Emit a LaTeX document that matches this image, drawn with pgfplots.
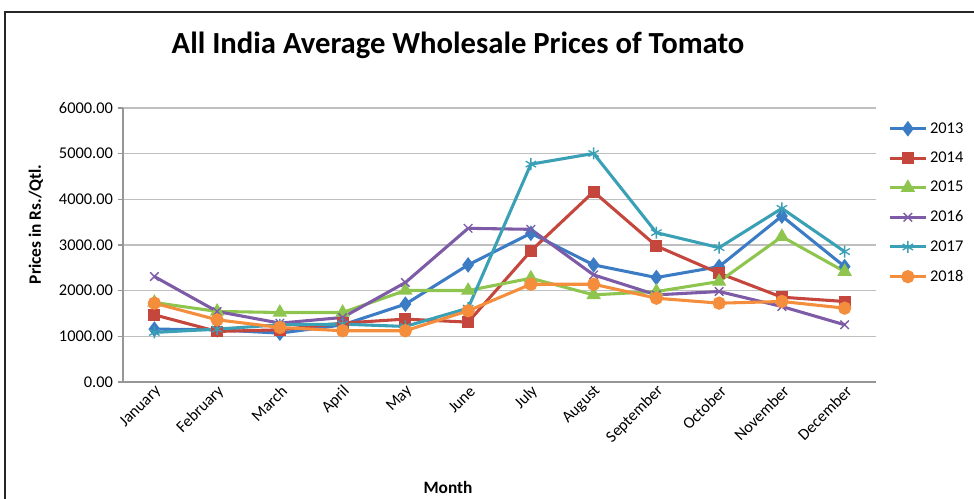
\documentclass[border=0pt]{standalone}
\usepackage{fontspec}
\setmainfont{Carlito}
\usepackage{pgfplots}
\pgfplotsset{compat=1.18}
\definecolor{cBlue}{HTML}{3C7CC4}
\definecolor{cRed}{HTML}{C5463D}
\definecolor{cGreen}{HTML}{8DC54F}
\definecolor{cPurple}{HTML}{7D5BA6}
\definecolor{cTeal}{HTML}{3AA0B6}
\definecolor{cOrange}{HTML}{F58E3C}
\definecolor{gridgray}{HTML}{BFBFBF}
\definecolor{axisgray}{HTML}{969696}

\begin{document}
\begin{tikzpicture}
\path[use as bounding box] (0,0) rectangle (730.5pt,374.25pt);
\draw[line width=1pt,black!85] (3.75pt,-2pt) -- (3.75pt,365.25pt) -- (733pt,365.25pt);
\node[font=\fontsize{23}{27}\selectfont\bfseries] at (343.5pt,340.5pt) {All India Average Wholesale Prices of Tomato};
\node[font=\fontsize{13}{15}\selectfont\bfseries,rotate=90] at (27pt,206pt) {Prices in Rs./Qtl.};
\node[font=\fontsize{13}{15}\selectfont\bfseries] at (336pt,9pt) {Month};
\begin{axis}[
  at={(92.25pt,87.75pt)},anchor=south west,
  scale only axis,
  width=564.75pt,height=205.5pt,
  xmin=-0.5,xmax=11.5,
  ymin=0,ymax=6000,
  axis x line*=bottom,axis y line*=left,
  axis line style={color=axisgray,line width=1pt},
  xtick={0,...,11},
  xticklabels={January,February,March,April,May,June,July,August,September,October,November,December},
  x tick style={draw=none},
  extra x ticks={-0.5,0.5,...,11.5},
  extra x tick labels={},
  extra x tick style={tick style={draw=axisgray,line width=0.8pt},major tick length=4pt,tick align=outside,grid=none},
  xticklabel style={rotate=45,anchor=east,font=\fontsize{12.2}{14}\selectfont,yshift=-3pt,xshift=5pt},
  ytick={0,1000,...,6000},
  y tick style={draw=axisgray,line width=0.8pt},
  major tick length=4pt,
  tick align=outside,
  yticklabel style={font=\fontsize{12.3}{14}\selectfont},
  /pgf/number format/.cd,fixed,fixed zerofill,precision=2,1000 sep={},assume math mode=true,
  /pgfplots/.cd,
  ymajorgrids,
  grid style={color=gridgray,line width=1pt},
  every axis plot/.append style={line width=2.3pt},
  legend style={at={(1.016,0.958)},anchor=north west,draw=none,fill=none,
    font=\fontsize{12.3}{14}\selectfont,row sep=8.6pt,inner sep=0pt},
  legend cell align=left,
  legend image code/.code={\draw[mark repeat=2,mark phase=2,#1] plot coordinates {(0pt,0pt) (13.5pt,0pt) (27pt,0pt)};},
]
\addplot[color=cBlue,mark=diamond*,mark size=4pt,mark options={solid}] coordinates {
  (0,1158) (1,1143) (2,1070) (3,1250) (4,1704) (5,2564)
  (6,3256) (7,2564) (8,2287) (9,2527) (10,3634) (11,2527)};
\addlegendentry{2013}
\addplot[color=cRed,mark=square*,mark size=3.3pt] coordinates {
  (0,1471) (1,1107) (2,1143) (3,1289) (4,1377) (5,1311)
  (6,2870) (7,4166) (8,2979) (9,2382) (10,1857) (11,1763)};
\addlegendentry{2014}
\addplot[color=cGreen,mark=triangle*,mark size=4pt] coordinates {
  (0,1740) (1,1545) (2,1522) (3,1522) (4,2003) (5,2003)
  (6,2272) (7,1908) (8,1981) (9,2200) (10,3183) (11,2418)};
\addlegendentry{2015}
\addplot[color=cPurple,mark=x,mark size=4.5pt,mark options={line width=1pt}] coordinates {
  (0,2309) (1,1544) (2,1289) (3,1413) (4,2178) (5,3365)
  (6,3343) (7,2345) (8,1908) (9,1981) (10,1653) (11,1253)};
\addlegendentry{2016}
\addplot[color=cTeal,mark=asterisk,mark size=4.5pt,mark options={line width=1pt}] coordinates {
  (0,1085) (1,1158) (2,1253) (3,1267) (4,1216) (5,1617)
  (6,4770) (7,5004) (8,3270) (9,2942) (10,3802) (11,2855)};
\addlegendentry{2017}
\addplot[color=cOrange,mark=*,mark size=3.8pt] coordinates {
  (0,1726) (1,1362) (2,1194) (3,1122) (4,1122) (5,1559)
  (6,2141) (7,2141) (8,1835) (9,1726) (10,1763) (11,1617)};
\addlegendentry{2018}
\end{axis}
\end{tikzpicture}
\end{document}
